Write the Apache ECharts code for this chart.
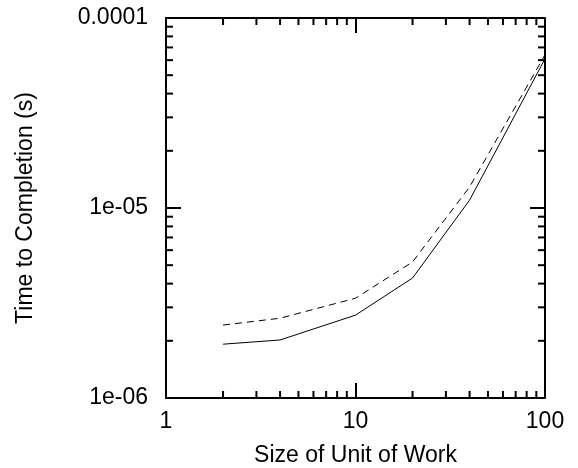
<!DOCTYPE html>
<html>
<head>
<meta charset="utf-8">
<script src="https://cdn.jsdelivr.net/npm/echarts@6/dist/echarts.min.js"></script>
<style>
  html, body { margin: 0; padding: 0; background: #fff; }
</style>
</head>
<body>
<div id="main" style="width: 578px;height:468px;"></div>
<script>
// unit-of-work sizes (x) and completion times in seconds (y)
const workSizes = [2, 4, 10, 20, 40, 100];
const solidTimes = [1.92e-6, 2.02e-6, 2.73e-6, 4.28e-6, 1.1e-5, 6.1e-5];
const dashedTimes = [2.42e-6, 2.63e-6, 3.35e-6, 5.2e-6, 1.29e-5, 6.4e-5];

const xTickLabels = ['1', '10', '100'];
const yTickLabels = ['1e-06', '1e-05', '0.0001'];

// minor tick positions on the log axes
const xMinorTicks = [2, 3, 4, 5, 6, 7, 8, 9, 20, 30, 40, 50, 60, 70, 80, 90];
const yMinorTicks = [2e-6, 3e-6, 4e-6, 5e-6, 6e-6, 7e-6, 8e-6, 9e-6,
                     2e-5, 3e-5, 4e-5, 5e-5, 6e-5, 7e-5, 8e-5, 9e-5];

const xMin = 1, xMax = 100, yMin = 1e-6, yMax = 1e-4;

let chartDom = document.getElementById('main');
let myChart = echarts.init(chartDom);

const font = 'Liberation Sans, Arial, Helvetica, sans-serif';
const fontSize = 23;
const minorLen = 7;
const lineStyleBox = { color: '#000', width: 2 };

function decadeIndex(v, base) {
  return Math.round(Math.log10(v / base));
}

function logAxis(extra) {
  return Object.assign({
    type: 'log',
    logBase: 10,
    axisLine: { show: true, onZero: false, lineStyle: lineStyleBox },
    axisTick: { show: true, inside: true, length: 15, lineStyle: { color: '#000', width: 2 } },
    splitLine: { show: false },
    minorTick: { show: false }
  }, extra);
}

let option = {
  animation: false,
  grid: { left: 166, right: 33, top: 18, bottom: 70, outerBoundsMode: 'none', containLabel: false },
  xAxis: [
    logAxis({
      min: xMin, max: xMax,
      name: 'Size of Unit of Work',
      nameLocation: 'middle',
      nameGap: 46,
      nameTextStyle: { fontFamily: font, fontSize: fontSize, color: '#000' },
      axisLabel: {
        fontFamily: font, fontSize: fontSize, color: '#000', margin: 12,
        formatter: v => xTickLabels[decadeIndex(v, xMin)]
      }
    }),
    logAxis({ min: xMin, max: xMax, position: 'top', axisLabel: { show: false } })
  ],
  yAxis: [
    logAxis({
      min: yMin, max: yMax,
      name: 'Time to Completion (s)',
      nameLocation: 'middle',
      nameGap: 129,
      nameTextStyle: { fontFamily: font, fontSize: fontSize, color: '#000' },
      axisLabel: {
        fontFamily: font, fontSize: fontSize, color: '#000', margin: 18,
        formatter: v => yTickLabels[decadeIndex(v, yMin)]
      }
    }),
    logAxis({ min: yMin, max: yMax, position: 'right', axisLabel: { show: false } })
  ],
  series: [
    {
      name: 'solid',
      type: 'line',
      data: workSizes.map((x, i) => [x, solidTimes[i]]),
      showSymbol: false,
      lineStyle: { color: '#000', width: 1 }
    },
    {
      name: 'dashed',
      type: 'line',
      data: workSizes.map((x, i) => [x, dashedTimes[i]]),
      showSymbol: false,
      lineStyle: { color: '#000', width: 1, type: [7, 5] }
    },
    {
      // minor ticks along bottom and top
      type: 'custom',
      clip: false,
      silent: true,
      data: xMinorTicks.map(v => [v, yMin]),
      renderItem: (params, api) => {
        const v = api.value(0);
        const b = api.coord([v, yMin]);
        const t = api.coord([v, yMax]);
        const style = { stroke: '#000', lineWidth: 2 };
        return {
          type: 'group',
          children: [
            { type: 'line', shape: { x1: b[0], y1: b[1], x2: b[0], y2: b[1] - minorLen }, style },
            { type: 'line', shape: { x1: t[0], y1: t[1], x2: t[0], y2: t[1] + minorLen }, style }
          ]
        };
      }
    },
    {
      // minor ticks along left and right
      type: 'custom',
      clip: false,
      silent: true,
      data: yMinorTicks.map(v => [xMin, v]),
      renderItem: (params, api) => {
        const v = api.value(1);
        const l = api.coord([xMin, v]);
        const r = api.coord([xMax, v]);
        const style = { stroke: '#000', lineWidth: 2 };
        return {
          type: 'group',
          children: [
            { type: 'line', shape: { x1: l[0], y1: l[1], x2: l[0] + minorLen, y2: l[1] }, style },
            { type: 'line', shape: { x1: r[0], y1: r[1], x2: r[0] - minorLen, y2: r[1] }, style }
          ]
        };
      }
    }
  ]
};

option && myChart.setOption(option);
</script>
</body>
</html>
